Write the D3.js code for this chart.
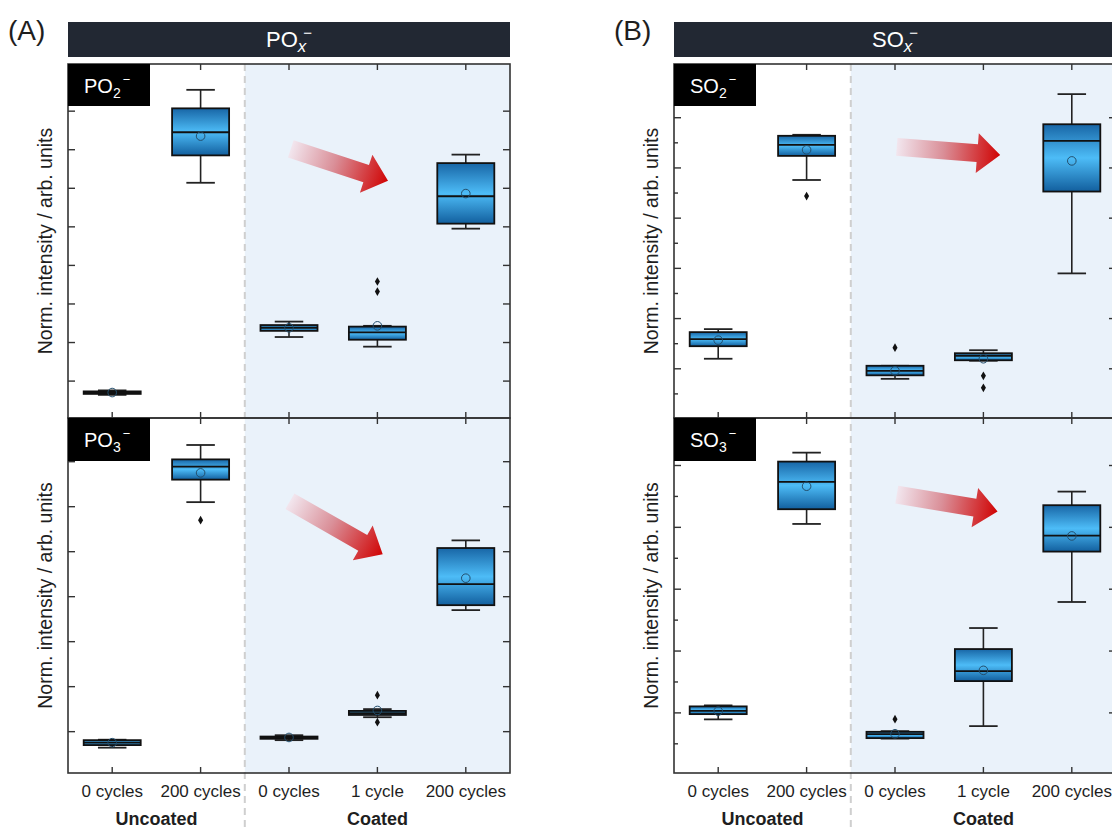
<!DOCTYPE html>
<html><head><meta charset="utf-8">
<script src="https://cdn.jsdelivr.net/npm/d3@7"></script>
<style>
body{margin:0;background:#fff;}
svg{display:block;font-family:"Liberation Sans",Arial,Helvetica,sans-serif;}
</style>
</head><body>
<svg id="chart" width="1112" height="830"></svg>
<script>
// ---------------- DATA ----------------
const categories = ["0 cycles", "200 cycles", "0 cycles", "1 cycle", "200 cycles"];
const groupNames = ["Uncoated", "Coated"];
const groupStart = [0, 2];
const groupEnd = [1, 4];
const panelLetters = ["(A)", "(B)"];
const titleIons = ["PO", "SO"];
const yAxisTitle = "Norm. intensity / arb. units";

// stats per category: [lowWhisker, q1, median, q3, highWhisker, mean]
const PO2_stats = [
  [0.63, 0.655, 0.694, 0.72, 0.746, 0.69],
  [6.13, 6.84, 7.44, 8.06, 8.54, 7.34],
  [2.13, 2.29, 2.37, 2.44, 2.53, 2.37],
  [1.88, 2.06, 2.25, 2.40, 2.42, 2.42],
  [4.94, 5.07, 5.78, 6.64, 6.86, 5.85]
];
const PO2_outliers = [[], [], [], [3.57, 3.31], []];
const PO2_domain = [0.03, 9.21];
const PO2_major = [1, 2, 3, 4, 5, 6, 7, 8];
const PO2_minor = [];
const PO2_arrow = [[2.02, 7.01], [3.12, 6.18]];

const PO3_stats = [
  [0.633, 0.69, 0.744, 0.80, 0.81, 0.744],
  [6.09, 6.59, 6.88, 7.04, 7.36, 6.74],
  [0.80, 0.83, 0.86, 0.88, 0.91, 0.86],
  [1.31, 1.36, 1.40, 1.45, 1.49, 1.46],
  [3.69, 3.80, 4.27, 5.07, 5.24, 4.40]
];
const PO3_outliers = [[], [5.69], [], [1.80, 1.20], []];
const PO3_domain = [0.07, 7.96];
const PO3_major = [1, 2, 3, 4, 5, 6, 7];
const PO3_minor = [];
const PO3_arrow = [[2.01, 6.11], [3.06, 4.93]];

const SO2_stats = [
  [1.19, 1.44, 1.58, 1.72, 1.78, 1.56],
  [4.75, 5.23, 5.45, 5.63, 5.65, 5.35],
  [0.79, 0.86, 0.95, 1.05, 1.05, 0.95],
  [1.15, 1.16, 1.25, 1.30, 1.36, 1.19],
  [2.89, 4.52, 5.53, 5.86, 6.46, 5.13]
];
const SO2_outliers = [[], [4.43], [1.41], [0.85, 0.61], []];
const SO2_domain = [0.01, 7.06];
const SO2_major = [1, 2, 3, 4, 5, 6];
const SO2_minor = [0.5, 1.5, 2.5, 3.5, 4.5, 5.5, 6.5];
const SO2_arrow = [[2.02, 5.41], [3.19, 5.25]];

const SO3_stats = [
  [0.887, 0.972, 1.026, 1.097, 1.113, 1.02],
  [4.047, 4.285, 4.727, 5.055, 5.20, 4.657],
  [0.576, 0.584, 0.649, 0.686, 0.697, 0.654],
  [0.778, 1.506, 1.668, 2.024, 2.364, 1.68],
  [2.785, 3.60, 3.858, 4.35, 4.57, 3.853]
];
const SO3_outliers = [[], [], [0.89], [], []];
const SO3_domain = [0.02, 5.76];
const SO3_major = [1, 2, 3, 4, 5];
const SO3_minor = [0.5, 1.5, 2.5, 3.5, 4.5, 5.5];
const SO3_arrow = [[2.02, 4.52], [3.16, 4.25]];

// ---------------- LAYOUT ----------------
const colLeft = [68, 674];
const plotW = 442;
const rowTop = [64, 418];
const rowBot = [418, 773];
const titleBarY = 22, titleBarH = 35;

const panels = [
  {col: 0, row: 0, ion: "PO", n: "2", stats: PO2_stats, out: PO2_outliers, domain: PO2_domain, major: PO2_major, minor: PO2_minor, arrow: PO2_arrow},
  {col: 0, row: 1, ion: "PO", n: "3", stats: PO3_stats, out: PO3_outliers, domain: PO3_domain, major: PO3_major, minor: PO3_minor, arrow: PO3_arrow},
  {col: 1, row: 0, ion: "SO", n: "2", stats: SO2_stats, out: SO2_outliers, domain: SO2_domain, major: SO2_major, minor: SO2_minor, arrow: SO2_arrow},
  {col: 1, row: 1, ion: "SO", n: "3", stats: SO3_stats, out: SO3_outliers, domain: SO3_domain, major: SO3_major, minor: SO3_minor, arrow: SO3_arrow}
];

const svg = d3.select("#chart");
const defs = svg.append("defs");
const boxGrad = defs.append("linearGradient").attr("id", "boxGrad")
  .attr("x1", 0).attr("y1", 0).attr("x2", 0).attr("y2", 1);
[[0, "#1866a6"], [0.5, "#4dbcf7"], [1, "#125f9e"]].forEach(([o, c]) =>
  boxGrad.append("stop").attr("offset", o).attr("stop-color", c));
const arrowGrad = defs.append("linearGradient").attr("id", "arrowGrad")
  .attr("x1", 0).attr("y1", 0).attr("x2", 1).attr("y2", 0);
[[0, "#f2e6ee"], [0.45, "#da8f98"], [1, "#d00404"]].forEach(([o, c]) =>
  arrowGrad.append("stop").attr("offset", o).attr("stop-color", c));

const textColor = "#1e1e1e";

// column-level elements
[0, 1].forEach(col => {
  const left = colLeft[col];
  const xBand = d3.scaleBand().domain(d3.range(categories.length)).range([left, left + plotW]).padding(0);
  const g = svg.append("g");
  g.append("rect")
    .attr("x", xBand(groupStart[1])).attr("y", rowTop[0])
    .attr("width", left + plotW - xBand(groupStart[1])).attr("height", rowBot[1] - rowTop[0])
    .attr("fill", "#eaf2fa");
  g.append("line")
    .attr("x1", xBand(groupStart[1])).attr("x2", xBand(groupStart[1]))
    .attr("y1", rowTop[0]).attr("y2", 830)
    .attr("stroke", "#cfcfcf").attr("stroke-width", 2).attr("stroke-dasharray", "7,5");
  g.append("rect").attr("x", left).attr("y", titleBarY).attr("width", plotW).attr("height", titleBarH)
    .attr("fill", "#222833");
  const tt = g.append("text").attr("x", left + plotW / 2).attr("y", titleBarY + 25)
    .attr("text-anchor", "middle").attr("fill", "#fff").attr("font-size", 22);
  tt.append("tspan").text(titleIons[col]);
  tt.append("tspan").attr("font-size", 17).attr("font-style", "italic").attr("dy", 5).text("x");
  tt.append("tspan").attr("font-size", 15).attr("dy", -14).attr("dx", -3).text("\u2212");
  g.append("text").attr("x", left - 60).attr("y", 40).attr("font-size", 28).attr("fill", textColor)
    .text(panelLetters[col]);
  groupNames.forEach((name, k) => {
    const cx = (xBand(groupStart[k]) + xBand(groupEnd[k]) + xBand.bandwidth()) / 2;
    g.append("text").attr("x", cx).attr("y", 825).attr("text-anchor", "middle")
      .attr("font-size", 18).attr("font-weight", "bold").attr("fill", textColor).text(name);
  });
});

panels.forEach(p => {
  const left = colLeft[p.col], right = left + plotW;
  const top = rowTop[p.row], bot = rowBot[p.row];
  const xBand = d3.scaleBand().domain(d3.range(categories.length)).range([left, right]).padding(0);
  const xLin = d3.scaleLinear().domain([-0.5, categories.length - 0.5]).range([left, right]);
  const y = d3.scaleLinear().domain(p.domain).range([bot, top]);
  const g = svg.append("g");
  const bwid = xBand.bandwidth() * 0.645, capW = bwid * 0.5;

  const boxes = g.selectAll("g.box").data(p.stats).join("g").attr("class", "box")
    .attr("transform", (d, i) => `translate(${xBand(i) + xBand.bandwidth() / 2},0)`);
  boxes.append("line").attr("x1", 0).attr("x2", 0).attr("y1", d => y(d[4])).attr("y2", d => y(d[3]))
    .attr("stroke", "#222").attr("stroke-width", 1.6);
  boxes.append("line").attr("x1", 0).attr("x2", 0).attr("y1", d => y(d[1])).attr("y2", d => y(d[0]))
    .attr("stroke", "#222").attr("stroke-width", 1.6);
  [0, 4].forEach(k => boxes.append("line").attr("x1", -capW / 2).attr("x2", capW / 2)
    .attr("y1", d => y(d[k])).attr("y2", d => y(d[k])).attr("stroke", "#222").attr("stroke-width", 1.8));
  boxes.append("rect").attr("x", -bwid / 2).attr("width", bwid)
    .attr("y", d => y(d[3])).attr("height", d => Math.max(1.5, y(d[1]) - y(d[3])))
    .attr("fill", "url(#boxGrad)").attr("stroke", "#111").attr("stroke-width", 1.8);
  boxes.append("line").attr("x1", -bwid / 2).attr("x2", bwid / 2)
    .attr("y1", d => y(d[2])).attr("y2", d => y(d[2])).attr("stroke", "#111").attr("stroke-width", 1.8);
  boxes.append("circle").attr("cx", 0).attr("cy", d => y(d[5])).attr("r", 4.3)
    .attr("fill", "none").attr("stroke", "#234e6c").attr("stroke-width", 1);
  boxes.each(function(d, i) {
    d3.select(this).selectAll("path.out").data(p.out[i]).join("path").attr("class", "out")
      .attr("transform", v => `translate(0,${y(v)})`)
      .attr("d", d3.symbol(d3.symbolDiamond, 22)).attr("fill", "#111");
  });

  const [t0, t1] = p.arrow;
  const ax0 = xLin(t0[0]), ay0 = y(t0[1]), ax1 = xLin(t1[0]), ay1 = y(t1[1]);
  const L = Math.hypot(ax1 - ax0, ay1 - ay0), ang = Math.atan2(ay1 - ay0, ax1 - ax0) * 180 / Math.PI;
  const sw = 18, hw = 40, hl = 23;
  g.append("g").attr("transform", `translate(${ax0},${ay0}) rotate(${ang})`)
    .append("path")
    .attr("d", `M0,${-sw / 2}L${L - hl},${-sw / 2}L${L - hl},${-hw / 2}L${L},0L${L - hl},${hw / 2}L${L - hl},${sw / 2}L0,${sw / 2}Z`)
    .attr("fill", "url(#arrowGrad)");

  g.append("rect").attr("x", left).attr("y", top).attr("width", plotW).attr("height", bot - top)
    .attr("fill", "none").attr("stroke", "#333").attr("stroke-width", 1.6);

  const styleAxis = sel => { sel.select(".domain").remove(); sel.selectAll(".tick line").attr("stroke", "#333").attr("stroke-width", 1.4); };
  g.append("g").attr("transform", `translate(${left},0)`)
    .call(d3.axisLeft(y).tickValues(p.major).tickSize(-7).tickFormat("")).call(styleAxis);
  g.append("g").attr("transform", `translate(${right},0)`)
    .call(d3.axisRight(y).tickValues(p.major).tickSize(-7).tickFormat("")).call(styleAxis);
  if (p.minor.length) {
    g.append("g").attr("transform", `translate(${left},0)`)
      .call(d3.axisLeft(y).tickValues(p.minor).tickSize(-4).tickFormat("")).call(styleAxis);
    g.append("g").attr("transform", `translate(${right},0)`)
      .call(d3.axisRight(y).tickValues(p.minor).tickSize(-4).tickFormat("")).call(styleAxis);
  }
  g.append("g").attr("transform", `translate(0,${top})`)
    .call(d3.axisTop(xBand).tickSize(-6).tickFormat("")).call(styleAxis);
  const bAx = g.append("g").attr("transform", `translate(0,${bot})`)
    .call(d3.axisBottom(xBand).tickSize(-6).tickPadding(12)
      .tickFormat(p.row === 1 ? (i => categories[i]) : ""))
    .call(styleAxis);
  bAx.selectAll("text").attr("font-size", 17).attr("fill", textColor)
    .attr("font-family", "'Liberation Sans',Arial,sans-serif");

  g.append("text")
    .attr("transform", `translate(${left - 16},${(top + bot) / 2}) rotate(-90)`)
    .attr("text-anchor", "middle").attr("font-size", 19.5).attr("fill", textColor)
    .text(yAxisTitle);

  const lh = p.row === 0 ? 42 : 43;
  g.append("rect").attr("x", left).attr("y", top).attr("width", 82).attr("height", lh).attr("fill", "#000");
  const lt = g.append("text").attr("x", left + 16).attr("y", top + 29).attr("fill", "#fff").attr("font-size", 20);
  lt.append("tspan").text(p.ion);
  lt.append("tspan").attr("font-size", 14).attr("dy", 5).text(p.n);
  lt.append("tspan").attr("font-size", 13).attr("dy", -14).attr("dx", 2).text("\u2212");
});
</script>
</body></html>
